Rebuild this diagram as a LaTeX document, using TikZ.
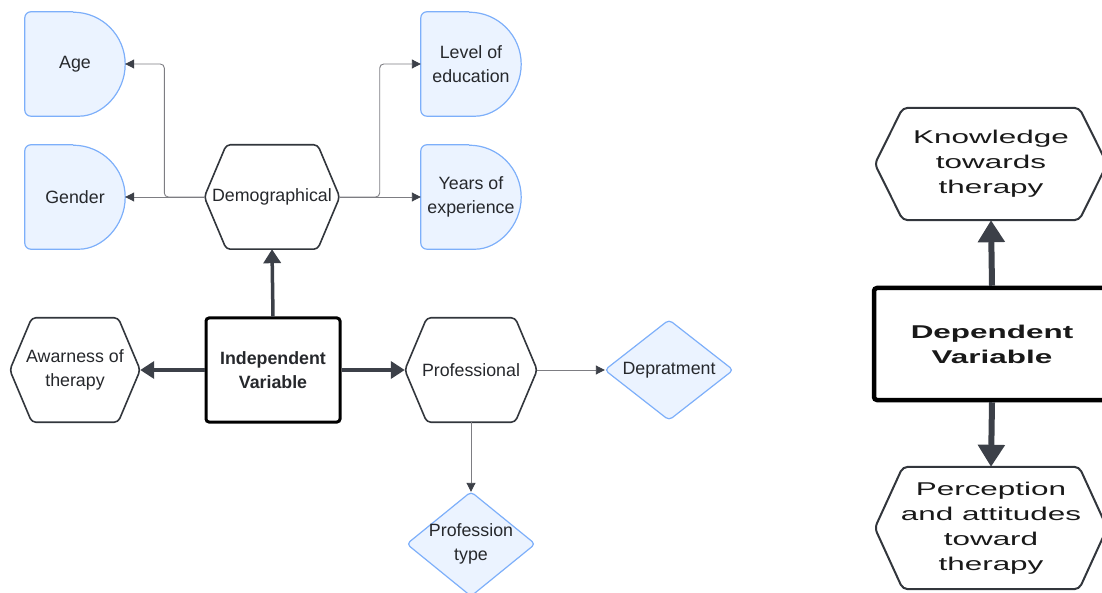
\documentclass[tikz,border=0pt]{standalone}
\usepackage{fontspec}
\setmainfont{Liberation Sans}
\newfontfamily\widefont[FakeStretch=1.7]{Liberation Sans}
\usetikzlibrary{calc,arrows.meta,backgrounds}

\definecolor{boxfill}{RGB}{235,243,255}
\definecolor{boxedge}{RGB}{125,175,250}
\definecolor{hexedge}{RGB}{50,54,60}
\definecolor{linegray}{RGB}{125,125,130}
\definecolor{headgray}{RGB}{60,64,72}
\definecolor{textgray}{RGB}{38,40,44}

\tikzset{
	item/.style={inner sep=0pt, align=center, text=textgray, font=\fontsize{17.8}{24}\selectfont},
	dshape/.style={item, minimum width=100pt, minimum height=104pt},
	hexa/.style={item, minimum width=132pt, minimum height=104pt},
	gem/.style={item, minimum width=128pt, minimum height=100pt},
	varbox/.style={item, draw=black, line width=3pt, rounded corners=3pt, font=\bfseries\fontsize{17.8}{24}\selectfont},
	bigitem/.style={inner sep=0pt, align=center, text=black!90, font=\widefont\fontsize{18.5}{25}\selectfont},
	thinarrow/.style={draw=linegray, line width=0.9pt, -{Triangle[length=9pt,width=9pt,color=headgray]}},
	thickarrow/.style={draw=headgray, line width=3.5pt, -{Triangle[length=14pt,width=17pt]}},
	bigarrow/.style={draw=headgray, line width=6pt, -{Triangle[length=22pt,width=26pt]}}
}

\begin{document}
\begin{tikzpicture}[x=1pt,y=-1pt]
	\path[use as bounding box, clip] (0,0) rectangle (1102,593);

	% independent side
	\node[dshape] (age) at (75,64) {Age};
	\node[dshape] (gender) at (75,197) {Gender};
	\node[dshape] (edu) at (471,64) {Level of\\education};
	\node[dshape] (years) at (471,197) {Years of\\experience};
	\node[hexa, minimum width=135pt] (demo) at (272,197) {Demographical};
	\node[varbox, minimum width=134pt, minimum height=104pt] (indep) at (273,370) {Independent\\Variable};
	\node[hexa, minimum width=130pt] (aware) at (75,370) {Awarness of\\therapy};
	\node[hexa] (prof) at (471,370) {Professional};
	\node[gem] (dept) at (669,370) {Depratment};
	\node[gem, minimum height=104pt] (ptype) at (471,544) {Profession\\type};

	% dependent side
	\node[bigitem, draw=black, line width=4.5pt, rounded corners=3pt, minimum width=236pt, minimum height=112pt, font=\widefont\bfseries\fontsize{18.5}{25}\selectfont] (dep) at (992,344) {Dependent\\Variable};
	\node[bigitem, minimum width=232pt, minimum height=112pt] (know) at (991,164) {Knowledge\\towards\\therapy};
	\node[bigitem, minimum width=232pt, minimum height=122pt] (perc) at (991,528) {Perception\\and attitudes\\toward\\therapy};

	% outlines behind the texts
	\begin{scope}[on background layer]
		\foreach \n in {age,gender,edu,years}
			\draw[fill=boxfill, draw=boxedge, line width=1.2pt] ($(\n.north east)+(-52,0)$) [rounded corners=6pt] -- (\n.north west) -- (\n.south west) -- ($(\n.south east)+(-52,0)$) [sharp corners] arc[start angle=-90, end angle=90, radius=52pt];
		\foreach \n/\d in {demo/22,aware/22,prof/22}
			\draw[fill=white, draw=hexedge, line width=1.6pt, rounded corners=4pt] (\n.west) -- ($(\n.north west)+(\d,0)$) -- ($(\n.north east)+(-\d,0)$) -- (\n.east) -- ($(\n.south east)+(-\d,0)$) -- ($(\n.south west)+(\d,0)$) -- cycle;
		\foreach \n/\d in {know/28,perc/28}
			\draw[fill=white, draw=hexedge, line width=2pt, rounded corners=5pt] (\n.west) -- ($(\n.north west)+(\d,0)$) -- ($(\n.north east)+(-\d,0)$) -- (\n.east) -- ($(\n.south east)+(-\d,0)$) -- ($(\n.south west)+(\d,0)$) -- cycle;
		\foreach \n in {dept,ptype}
			\draw[fill=boxfill, draw=boxedge, line width=1.2pt, rounded corners=4pt] (\n.west) -- (\n.north) -- (\n.east) -- (\n.south) -- cycle;
	\end{scope}

	% connectors
	\draw[thinarrow] (demo.west) -- (gender.east);
	\draw[thinarrow, rounded corners=4pt] (demo.west) -- ++(-40,0) |- (age.east);
	\draw[thinarrow] (demo.east) -- (years.west);
	\draw[thinarrow, rounded corners=4pt] (demo.east) -- ++(40,0) |- (edu.west);
	\draw[thickarrow] (indep.north) -- (demo.south);
	\draw[thickarrow] (indep.west) -- (aware.east);
	\draw[thickarrow] (indep.east) -- (prof.west);
	\draw[thinarrow] (prof.east) -- (dept.west);
	\draw[thinarrow] (prof.south) -- (ptype.north);
	\draw[bigarrow] (dep.north) -- (know.south);
	\draw[bigarrow] (dep.south) -- (perc.north);
\end{tikzpicture}
\end{document}
